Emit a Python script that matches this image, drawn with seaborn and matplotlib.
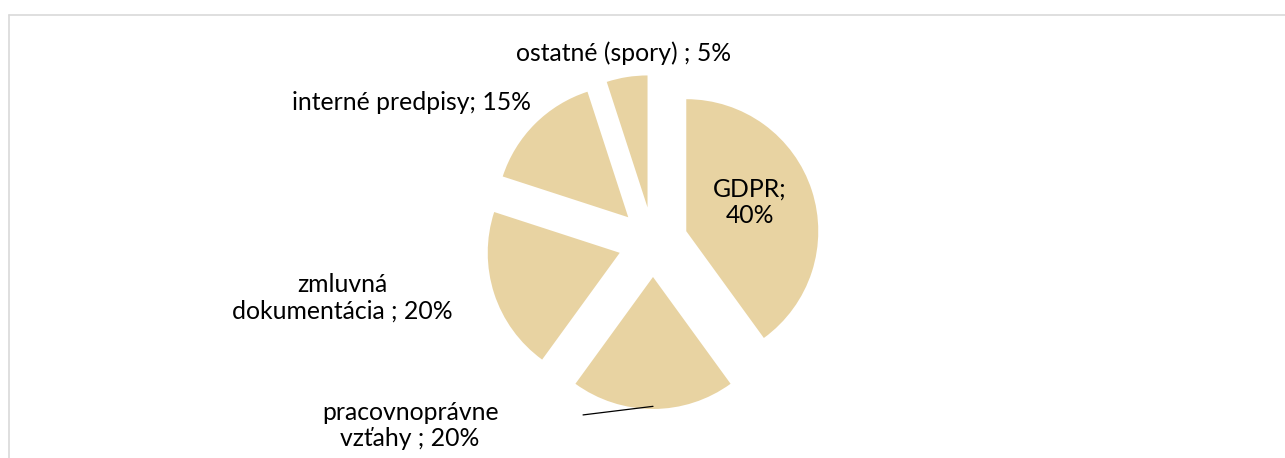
import numpy as np
import seaborn as sns
import matplotlib.pyplot as plt
from matplotlib.lines import Line2D

# data
categories = ["GDPR", "pracovnoprávne\nvzťahy", "zmluvná\ndokumentácia", "interné predpisy", "ostatné (spory)"]
shares = [40, 20, 20, 15, 5]
labels = ["GDPR;\n40%", "pracovnoprávne\nvzťahy ; 20%", "zmluvná\ndokumentácia ; 20%",
          "interné predpisy; 15%", "ostatné (spory) ; 5%"]

sns.set_theme(style="white")
plt.rcParams['font.family'] = ['Lato', 'DejaVu Sans']

W, H = 1285, 458
cx, cy, rad = 653, 242, 132

# label positions (data units, radius = 1)
label_pos = [(0.735, 0.30), (-1.84, -1.39), (-2.35, -0.42), (-1.83, 1.06), (-0.22, 1.43)]

fig = plt.figure(figsize=(W / 100, H / 100), dpi=100)
ax = fig.add_axes([0, 0, 1, 1])
ax.axis('off')

wedges, _ = ax.pie(shares, startangle=90, counterclock=False,
                   colors=['#E8D3A2'] * len(shares),
                   explode=[0.265] * len(shares), radius=1,
                   wedgeprops=dict(linewidth=0))

ax.set_xlim(-cx / rad, (W - cx) / rad)
ax.set_ylim(-(H - cy) / rad, cy / rad)
ax.set_aspect('auto')

for txt, (x, y) in zip(labels, label_pos):
    ax.text(x, y, txt, ha='center', va='center', fontsize=17.8,
            color='#000000', linespacing=1.2)

# leader line for pracovnoprávne vzťahy
ax.plot([-0.53, 0.0], [-1.31, -1.245], color='#000000', linewidth=0.9)

# chart area border
fig.add_artist(Line2D([9 / W, 1.1], [1 - 15 / H, 1 - 15 / H], color='#d9d9d9', linewidth=1.2))
fig.add_artist(Line2D([9 / W, 9 / W], [-0.1, 1 - 15 / H], color='#d9d9d9', linewidth=1.2))

fig.savefig('out.png', dpi=100)
